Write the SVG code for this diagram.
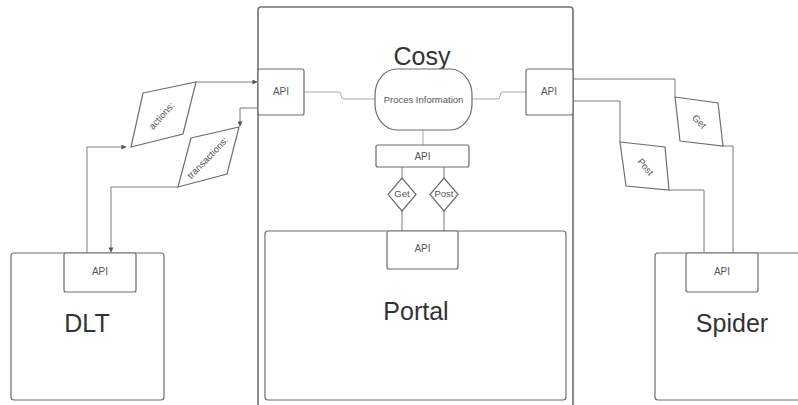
<svg xmlns="http://www.w3.org/2000/svg" width="798" height="405" viewBox="0 0 798 405">
  <style>
    .box { fill: #ffffff; stroke: #6e6e6e; stroke-width: 1.2; }
    .frame { fill: #ffffff; stroke: #707070; stroke-width: 1.6; }
    .wire { fill: none; stroke: #7a7a7a; stroke-width: 1; }
    .thin { fill: none; stroke: #a8a8a8; stroke-width: 1; }
    .api { font-family: "Liberation Sans", Arial, sans-serif; font-size: 10px; fill: #555; text-anchor: middle; }
    .lbl { font-family: "Liberation Sans", Arial, sans-serif; font-size: 9.5px; fill: #555; text-anchor: middle; }
    .title { font-family: "Liberation Sans", Arial, sans-serif; font-size: 25px; fill: #333; text-anchor: middle; }
  </style>
  <defs>
    <marker id="arrow" viewBox="0 0 6 6" refX="5.5" refY="3" markerWidth="5" markerHeight="5" orient="auto" markerUnits="userSpaceOnUse">
      <path d="M0,0 L6,3 L0,6 Z" fill="#555"/>
    </marker>
  </defs>
  <rect width="798" height="405" fill="#ffffff"/>

  <!-- Cosy container -->
  <g id="cosy">
    <rect class="frame" x="258" y="7" width="315" height="420" rx="3"/>
    <text class="title" x="422" y="65">Cosy</text>
  </g>

  <!-- connectors -->
  <g id="connectors">
    <!-- DLT -> actions -> Cosy API -->
    <path class="wire" d="M87,253 V147 H126" marker-end="url(#arrow)"/>
    <path class="wire" d="M196,82 H257" marker-end="url(#arrow)"/>
    <!-- Cosy API -> transactions -> DLT -->
    <path class="wire" d="M258,108 H240 V126" marker-end="url(#arrow)"/>
    <path class="wire" d="M178,187 H111 V252" marker-end="url(#arrow)"/>
    <!-- Cosy API -> Get / Post -> Spider -->
    <path class="wire" d="M573,79 H675 V97"/>
    <path class="wire" d="M723,146 H733 V253"/>
    <path class="wire" d="M573,101 H620 V142"/>
    <path class="wire" d="M669,190 H704 V253"/>
    <!-- APIs to process -->
    <path class="thin" d="M304,92 H338 Q341,92 341,95 Q341,99 344,99 H375"/>
    <path class="thin" d="M472,99 H497 Q500,99 500,96 Q500,92 503,92 H526"/>
    <path class="thin" d="M423,130 V145"/>
    <!-- API to Get/Post to Portal -->
    <path class="wire" d="M402,167 V178 M402,211 V231"/>
    <path class="wire" d="M444,167 V178 M444,211 V231"/>
  </g>

  <g id="cosy-api-left">
    <rect class="box" x="258" y="69" width="46" height="46" rx="2"/>
    <text class="api" x="281" y="95">API</text>
  </g>
  <g id="cosy-api-right">
    <rect class="box" x="526" y="69" width="47" height="46" rx="2"/>
    <text class="api" x="549" y="95">API</text>
  </g>
  <g id="process">
    <rect class="box" x="375" y="69" width="97" height="61" rx="22" ry="26"/>
    <text class="lbl" x="423.5" y="103" font-size="10.5">Proces Information</text>
  </g>
  <g id="cosy-api-middle">
    <rect class="box" x="376" y="145" width="93" height="22" rx="2"/>
    <text class="api" x="422.5" y="159.5">API</text>
  </g>
  <g id="get-portal">
    <path class="box" d="M402,178 L416,194.5 L402,211 L388,194.5 Z"/>
    <text class="lbl" x="402" y="197" font-size="7">Get</text>
  </g>
  <g id="post-portal">
    <path class="box" d="M444,178 L458,194.5 L444,211 L430,194.5 Z"/>
    <text class="lbl" x="444" y="197" font-size="7">Post</text>
  </g>

  <g id="portal">
    <rect class="box" x="265" y="231" width="301" height="169" rx="3"/>
    <rect class="box" x="387" y="231" width="71" height="38" rx="2"/>
    <text class="api" x="422.5" y="252">API</text>
    <text class="title" x="416" y="320">Portal</text>
  </g>

  <g id="dlt">
    <rect class="box" x="11" y="253" width="153" height="147" rx="3"/>
    <rect class="box" x="64" y="253" width="72" height="39" rx="2"/>
    <text class="api" x="100" y="275">API</text>
    <text class="title" x="87" y="332">DLT</text>
  </g>

  <g id="spider">
    <rect class="box" x="655" y="253" width="170" height="147" rx="3"/>
    <rect class="box" x="686" y="253" width="72" height="39" rx="2"/>
    <text class="api" x="722" y="275">API</text>
    <text class="title" x="732" y="332">Spider</text>
  </g>

  <g id="actions">
    <path class="box" d="M143,93 L196,82 L183,134 L131,147 Z"/>
    <text class="lbl" transform="translate(164,118) rotate(-48)">actions:</text>
  </g>
  <g id="transactions">
    <path class="box" d="M191,138 L239,127 L227,174 L178,187 Z"/>
    <text class="lbl" transform="translate(210,160) rotate(-46)">transactions:</text>
  </g>
  <g id="get-spider">
    <path class="box" d="M675,97 L718,103 L723,146 L680,141 Z"/>
    <text class="lbl" transform="translate(697,124) rotate(45)">Get</text>
  </g>
  <g id="post-spider">
    <path class="box" d="M620,142 L665,147 L669,190 L626,186 Z"/>
    <text class="lbl" transform="translate(643,169) rotate(50)">Post</text>
  </g>
</svg>
